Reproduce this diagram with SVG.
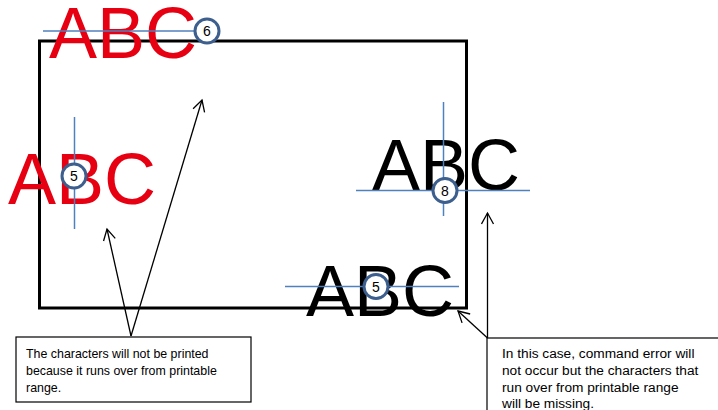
<svg xmlns="http://www.w3.org/2000/svg" width="718" height="410" viewBox="0 0 718 410">
<defs>
<style>
.big{font-family:"Liberation Sans",Arial,sans-serif;font-size:72px}
.red{fill:#e60012}
.blk{fill:#000}
.guide{stroke:#4f81bd;stroke-width:1.5;fill:none}
.mark{fill:#fff;stroke:#3c5f8e;stroke-width:3}
.num{font-family:"Liberation Sans",Arial,sans-serif;font-size:14px;fill:#000;text-anchor:middle}
.note{font-family:"Liberation Sans",Arial,sans-serif;font-size:12.4px;fill:#000}
.note2{font-family:"Liberation Sans",Arial,sans-serif;font-size:13.7px;fill:#000}
.box{fill:#fff;stroke:#000;stroke-width:1.2}
.arr{stroke:#000;stroke-width:1.3;fill:none;marker-end:url(#ah)}
</style>
<marker id="ah" markerWidth="14" markerHeight="14" refX="12" refY="7" orient="auto" markerUnits="userSpaceOnUse">
<path d="M1,1 L12,7 L1,13" fill="none" stroke="#000" stroke-width="1.3"/>
</marker>
</defs>
<rect width="718" height="410" fill="#fff"/>
<rect id="printable-range" x="39.5" y="41" width="427" height="267" fill="none" stroke="#000" stroke-width="3"/>

<g id="abc-top">
<text class="big red" x="49" y="58">ABC</text>
<line class="guide" x1="43" y1="31" x2="196" y2="31"/>
<circle class="mark" cx="207" cy="31" r="12"/>
<text class="num" x="207" y="36">6</text>
</g>

<g id="abc-left">
<text class="big red" x="8" y="204">ABC</text>
<line class="guide" x1="74.5" y1="117" x2="74.5" y2="229"/>
<circle class="mark" cx="74" cy="176" r="12"/>
<text class="num" x="74" y="181">5</text>
</g>

<g id="abc-right">
<text class="big blk" x="372" y="190">ABC</text>
<line class="guide" x1="356" y1="190.5" x2="530" y2="190.5"/>
<line class="guide" x1="443.5" y1="102" x2="443.5" y2="216"/>
<circle class="mark" cx="445" cy="190.5" r="12"/>
<text class="num" x="445" y="195.5">8</text>
</g>

<g id="abc-bottom">
<text class="big blk" x="306" y="316">ABC</text>
<line class="guide" x1="285" y1="286.5" x2="459" y2="286.5"/>
<circle class="mark" cx="376" cy="286.5" r="12"/>
<text class="num" x="376" y="291.5">5</text>
</g>

<g id="connectors">
<line class="arr" x1="131" y1="336" x2="107" y2="229"/>
<line class="arr" x1="131" y1="336" x2="202" y2="100"/>
<line class="arr" x1="487.5" y1="338" x2="487.5" y2="213"/>
<line class="arr" x1="487.5" y1="338" x2="458" y2="311"/>
</g>

<g id="note-left">
<rect class="box" x="16" y="337" width="235" height="65"/>
<text class="note" x="26" y="358">The characters will not be printed</text>
<text class="note" x="26" y="375">because it runs over from printable</text>
<text class="note" x="26" y="392">range.</text>
</g>

<g id="note-right">
<rect class="box" x="487" y="338" width="240" height="80"/>
<text class="note2" x="502" y="358">In this case, command error will</text>
<text class="note2" x="502" y="375">not occur but the characters that</text>
<text class="note2" x="502" y="391.5">run over from printable range</text>
<text class="note2" x="502" y="408">will be missing.</text>
</g>
</svg>
